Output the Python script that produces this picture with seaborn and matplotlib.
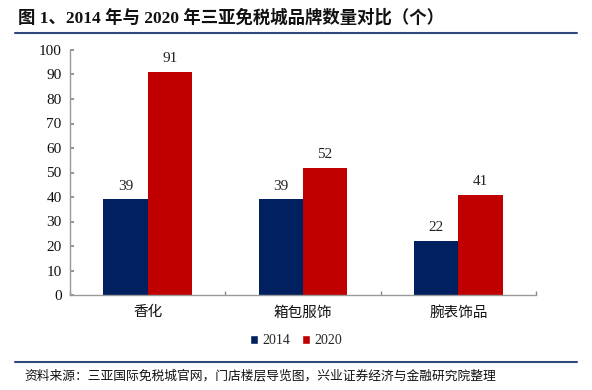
import pandas as pd
import matplotlib.pyplot as plt
import seaborn as sns
from matplotlib.lines import Line2D
from matplotlib.patches import Patch

# Data
categories = ['香化', '箱包服饰', '腕表饰品']
years = ['2014', '2020']
values_2014 = [39, 39, 22]
values_2020 = [91, 52, 41]

df = pd.DataFrame({
    'category': categories * 2,
    'year': [years[0]] * 3 + [years[1]] * 3,
    'value': values_2014 + values_2020,
})

sns.set_theme(style='white')
plt.rcParams['font.family'] = ['Liberation Serif', 'Noto Sans CJK SC', 'DejaVu Sans']
plt.rcParams['axes.unicode_minus'] = False

palette = {'2014': '#002060', '2020': '#C00000'}

fig = plt.figure(figsize=(5.92, 3.90), dpi=100)
ax = fig.add_axes([70 / 592, 1 - 295 / 390, (536 - 70) / 592, (295 - 50) / 390])

sns.barplot(data=df, x='category', y='value', hue='year', palette=palette,
            width=0.57, saturation=1, ax=ax, legend=False, linewidth=0, gap=0)

for container in ax.containers:
    ax.bar_label(container, padding=5, fontsize=11, color='#222222')

ax.set_xlim(-0.5, 2.5)
ax.set_ylim(0, 100)
ax.set_yticks(range(0, 101, 10))
ax.set_xlabel('')
ax.set_ylabel('')
ax.tick_params(axis='y', labelsize=11, direction='in', length=3, color='#888888',
               left=True, pad=6, labelcolor='#111111')
ax.set_xticks([0, 1, 2])
ax.set_xticklabels(categories, fontsize=10.5, color='#111111')
ax.tick_params(axis='x', length=0, pad=8)
ax.set_xticks([-0.5, 0.5, 1.5, 2.5], minor=True)
ax.tick_params(axis='x', which='minor', direction='in', length=3, color='#888888', bottom=True)

for s in ['top', 'right']:
    ax.spines[s].set_visible(False)
for s in ['left', 'bottom']:
    ax.spines[s].set_color('#999999')
    ax.spines[s].set_linewidth(1.0)

handles = [Patch(facecolor=palette[y], label=y) for y in years]
fig.legend(handles=handles, loc='center', bbox_to_anchor=(296 / 592, 1 - 341 / 390),
           ncol=2, frameon=False, fontsize=10, handlelength=0.55, handleheight=0.55,
           handletextpad=0.3, columnspacing=0.9)

# Title and footer
fig.text(18 / 592, 1 - 18 / 390, '图 1、2014 年与 2020 年三亚免税城品牌数量对比（个）',
         fontsize=12.5, fontweight='bold', va='center', ha='left', color='#111111')
fig.add_artist(Line2D([15 / 592, 577 / 592], [1 - 33 / 390] * 2, color='#2F4A7A', lw=1.5))
fig.add_artist(Line2D([15 / 592, 577 / 592], [1 - 362 / 390] * 2, color='#2F4A7A', lw=1.5))
fig.text(24 / 592, 1 - 376 / 390, '资料来源：三亚国际免税城官网，门店楼层导览图，兴业证券经济与金融研究院整理',
         fontsize=9.2, va='center', ha='left', color='#111111')

fig.savefig('out.png', dpi=100)
